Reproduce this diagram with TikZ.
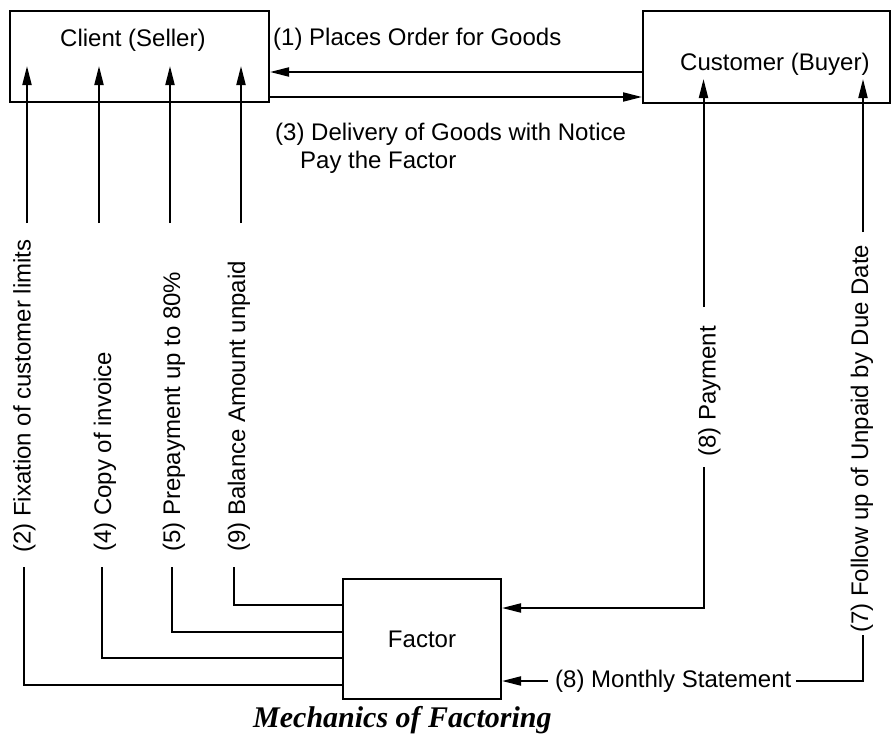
\documentclass[tikz,border=0pt]{standalone}
\usepackage{fontspec}
\setmainfont{Liberation Sans}
\newfontfamily\captionserif{Liberation Serif}
\usetikzlibrary{arrows.meta}
\begin{document}
\begin{tikzpicture}[x=1pt,y=-1pt,
  box/.style={draw, line width=2pt, inner sep=0pt},
  txt/.style={inner sep=0pt, font=\fontsize{24}{28}\selectfont},
  vtxt/.style={txt, rotate=90, anchor=west},
  link/.style={line width=2pt},
  arr/.style={link, -{Triangle[length=19pt,width=9pt]}},
]
\useasboundingbox (0,0) rectangle (892,739);
\fill[white] (0,0) rectangle (892,739);

% parties
\node[box, minimum width=259pt, minimum height=91pt] (client) at (139.5,56.5) {};
\node[box, minimum width=247pt, minimum height=92pt] (customer) at (766.5,57) {};
\node[box, minimum width=158pt, minimum height=120pt] (factor) at (422,639) {};

\node[txt, anchor=base west] (clientname) at (60,46) {Client (Seller)};
\node[txt, anchor=base west] (customername) at (680,70) {Customer (Buyer)};
\node[txt] (factorname) at (factor.center) {Factor};

% flow labels
\node[txt, anchor=base west] (order) at (273,45) {(1) Places Order for Goods};
\node[txt, anchor=base west] (delivery) at (275,140) {(3) Delivery of Goods with Notice};
\node[txt, anchor=base west] (payfactor) at (300,168) {Pay the Factor};

\node[vtxt] (l2) at (24.5,553) {(2) Fixation of customer limits};
\node[vtxt] (l4) at (105,552) {(4) Copy of invoice};
\node[vtxt] (l5) at (174,552) {(5) Prepayment up to 80\%};
\node[vtxt] (l9) at (239,552) {(9) Balance Amount unpaid};
\node[vtxt] (l8p) at (709.5,457) {(8) Payment};
\node[vtxt] (l7) at (862,633) {(7) Follow up of Unpaid by Due Date};
\node[txt, anchor=west] (l8m) at (555,681) {(8) Monthly Statement};

% arrow tip levels inside the top boxes
\coordinate (ctip) at ([yshift=37pt]client.south);
\coordinate (btip) at ([yshift=25pt]customer.south);

% goods and order flow
\draw[arr] ([yshift=-15pt]customer.west) -- ([yshift=-15pt]customer.west -| client.east);
\draw[arr] ([yshift=-40.5pt]client.east) -- ([yshift=-40.5pt]client.east -| customer.west);

% factor -> client
\coordinate (u2) at (27,223);  \coordinate (d2) at (24,567);  \coordinate (b2) at (24,685);
\coordinate (u4) at (99,223);  \coordinate (d4) at (102,567); \coordinate (b4) at (102,658);
\coordinate (u5) at (170,223); \coordinate (d5) at (172,567); \coordinate (b5) at (172,632);
\coordinate (u9) at (241,223); \coordinate (d9) at (234,567); \coordinate (b9) at (234,605);

\foreach \k in {2,4,5,9} {
  \draw[arr] (u\k) -- (u\k |- ctip);
  \draw[link] (d\k) -- (b\k) -- (b\k -| factor.west);
}

% customer <-> factor
\coordinate (pu) at (703.5,307); \coordinate (pd) at (703.5,467); \coordinate (pb) at (703.5,608);
\draw[arr] (pu) -- (pu |- btip);
\draw[arr] (pd) -- (pb) -- (pb -| factor.east);

\coordinate (fu) at (863,232); \coordinate (fd) at (863,635);
\draw[arr] (fu) -- (fu |- btip);
\draw[link] (fd) |- ([xshift=4pt]l8m.east);
\draw[arr] ([xshift=-7pt]l8m.west) -- (factor.east |- l8m.west);

% caption
\node[anchor=base west, inner sep=0pt,
      font={\captionserif\fontsize{30}{34}\selectfont\bfseries\itshape}] (caption)
  at (253,727) {Mechanics of Factoring};
\end{tikzpicture}
\end{document}
